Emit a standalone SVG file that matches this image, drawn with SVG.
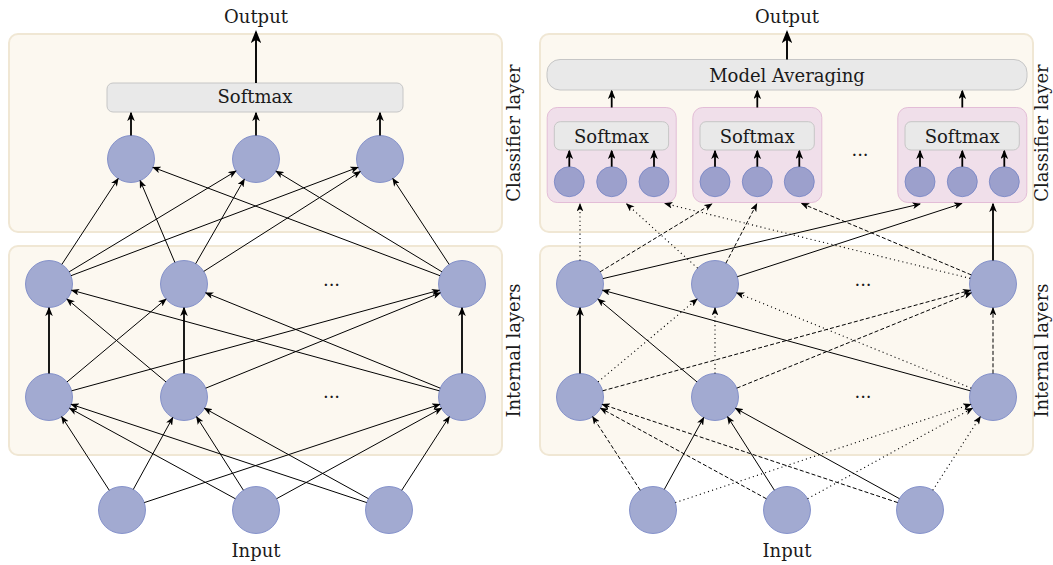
<svg xmlns="http://www.w3.org/2000/svg" width="1053" height="565" viewBox="0 0 1053 565">
<style>
.panel{fill:#fcf8f0;stroke:#f0e7d4;stroke-width:2}
.pink{fill:#f0dfea;stroke:#e3bdd7;stroke-width:1}
.box{fill:#e9e9e9;stroke:#c6c6c6;stroke-width:1}
.n{fill:#a2aad1;stroke:#7383c4;stroke-width:0.8}
.ns{fill:#9ca0cc;stroke:#7383c4;stroke-width:0.8}
text{font-family:"DejaVu Serif","Liberation Serif",serif;font-size:18px;fill:#1a1a1a}
.m{text-anchor:middle}
.c{stroke:#000;stroke-width:1;fill:none;marker-end:url(#a)}
.cd{stroke:#000;stroke-width:1;fill:none;stroke-dasharray:4 2.2;marker-end:url(#a)}
.ct{stroke:#000;stroke-width:1.1;fill:none;stroke-dasharray:1.1 3.2;marker-end:url(#a)}
.ck{stroke:#000;stroke-width:1.8;fill:none;marker-end:url(#ab)}
.co{stroke:#000;stroke-width:1.9;fill:none;marker-end:url(#ao)}
</style>
<defs>
<marker id="a" markerUnits="userSpaceOnUse" viewBox="0 0 10 8" markerWidth="8.5" markerHeight="6.8" refX="8.8" refY="4" orient="auto"><path d="M0,0 L10,4 L0,8 L2.6,4 Z" fill="#000"/></marker>
<marker id="ab" markerUnits="userSpaceOnUse" viewBox="0 0 10 8" markerWidth="9.5" markerHeight="7.6" refX="8.5" refY="4" orient="auto"><path d="M0,0 L10,4 L0,8 L2.6,4 Z" fill="#000"/></marker>
<marker id="ao" markerUnits="userSpaceOnUse" viewBox="0 0 10 8" markerWidth="13" markerHeight="10.4" refX="8.5" refY="4" orient="auto"><path d="M0,0 L10,4 L0,8 L2.6,4 Z" fill="#000"/></marker>
</defs>
<rect width="1053" height="565" fill="#fff"/>

<!-- LEFT PANEL -->
<g id="left">
<g id="L-panels">
<rect class="panel" x="9" y="34" width="493" height="198" rx="9"/>
<rect class="panel" x="9" y="246" width="493" height="209" rx="9"/>
</g>
<text class="m" x="256" y="22.5">Output</text>
<text class="m" x="256" y="557">Input</text>
<text class="m" transform="translate(520,133) rotate(-90)">Classifier layer</text>
<text class="m" transform="translate(520,350.5) rotate(-90)">Internal layers</text>
<text class="m" x="331.5" y="285.5">...</text>
<text class="m" x="331.5" y="398">...</text>
<g id="L-softmax"><rect class="box" x="107" y="83" width="296" height="29" rx="6"/><text class="m" x="255" y="103">Softmax</text></g>
<g id="L-C1"><circle class="n" cx="131" cy="159" r="23.5"/></g>
<g id="L-C2"><circle class="n" cx="256" cy="159" r="23.5"/></g>
<g id="L-C3"><circle class="n" cx="380" cy="159" r="23.5"/></g>
<g id="L-T1"><circle class="n" cx="49" cy="284" r="23.5"/></g>
<g id="L-T2"><circle class="n" cx="184" cy="284" r="23.5"/></g>
<g id="L-T3"><circle class="n" cx="462" cy="284" r="23.5"/></g>
<g id="L-B1"><circle class="n" cx="49" cy="397" r="23.5"/></g>
<g id="L-B2"><circle class="n" cx="184" cy="397" r="23.5"/></g>
<g id="L-B3"><circle class="n" cx="462" cy="397" r="23.5"/></g>
<g id="L-I1"><circle class="n" cx="122" cy="510" r="23.5"/></g>
<g id="L-I2"><circle class="n" cx="256" cy="510" r="23.5"/></g>
<g id="L-I3"><circle class="n" cx="389" cy="510" r="23.5"/></g>
<g id="L-connectors">
<line class="co" x1="256" y1="83" x2="256" y2="32"/>
<line class="ck" x1="131" y1="135.5" x2="131" y2="113"/>
<line class="ck" x1="256" y1="135.5" x2="256" y2="113"/>
<line class="ck" x1="380" y1="135.5" x2="380" y2="113"/>
<line class="c" x1="61.89" y1="264.35" x2="118.11" y2="178.65"/>
<line class="c" x1="69.12" y1="271.85" x2="235.88" y2="171.15"/>
<line class="c" x1="70.98" y1="275.7" x2="358.02" y2="167.3"/>
<line class="c" x1="174.83" y1="262.37" x2="140.17" y2="180.63"/>
<line class="c" x1="195.73" y1="263.64" x2="244.27" y2="179.36"/>
<line class="c" x1="203.81" y1="271.37" x2="360.19" y2="171.63"/>
<line class="c" x1="440.02" y1="275.7" x2="152.98" y2="167.3"/>
<line class="c" x1="441.91" y1="271.81" x2="276.09" y2="171.19"/>
<line class="c" x1="449.11" y1="264.35" x2="392.89" y2="178.65"/>
<line class="ck" x1="49" y1="373.5" x2="49" y2="308"/>
<line class="c" x1="67.02" y1="381.92" x2="165.98" y2="299.08"/>
<line class="c" x1="71.67" y1="390.8" x2="439.33" y2="290.2"/>
<line class="c" x1="165.98" y1="381.92" x2="67.02" y2="299.08"/>
<line class="ck" x1="184" y1="373.5" x2="184" y2="308"/>
<line class="c" x1="205.77" y1="388.15" x2="440.23" y2="292.85"/>
<line class="c" x1="439.33" y1="390.8" x2="71.67" y2="290.2"/>
<line class="c" x1="440.23" y1="388.15" x2="205.77" y2="292.85"/>
<line class="ck" x1="462" y1="373.5" x2="462" y2="308"/>
<line class="c" x1="109.25" y1="490.26" x2="61.75" y2="416.74"/>
<line class="c" x1="133.3" y1="489.4" x2="172.7" y2="417.6"/>
<line class="c" x1="144.3" y1="502.59" x2="439.7" y2="404.41"/>
<line class="c" x1="235.37" y1="498.74" x2="69.63" y2="408.26"/>
<line class="c" x1="243.37" y1="490.18" x2="196.63" y2="416.82"/>
<line class="c" x1="276.6" y1="498.7" x2="441.4" y2="408.3"/>
<line class="c" x1="366.7" y1="502.59" x2="71.3" y2="404.41"/>
<line class="c" x1="368.42" y1="498.66" x2="204.58" y2="408.34"/>
<line class="c" x1="401.75" y1="490.26" x2="449.25" y2="416.74"/>
</g>
</g>

<!-- RIGHT PANEL -->
<g id="right" transform="translate(531,0)">
<g id="R-panels">
<rect class="panel" x="9" y="34" width="493" height="198" rx="9"/>
<rect class="panel" x="9" y="246" width="493" height="209" rx="9"/>
</g>
<text class="m" x="256" y="22.5">Output</text>
<text class="m" x="256" y="557">Input</text>
<text class="m" transform="translate(516.5,133) rotate(-90)">Classifier layer</text>
<text class="m" transform="translate(516.5,350.5) rotate(-90)">Internal layers</text>
<text class="m" x="332" y="285.5">...</text>
<text class="m" x="332" y="398">...</text>
<text class="m" x="329" y="155.5">...</text>
<g id="R-averaging"><rect class="box" x="16" y="59.5" width="480" height="30.5" rx="13"/><text class="m" x="256" y="81.5">Model Averaging</text></g>
<g id="R-head1">
<rect class="pink" x="16.2" y="107.5" width="129" height="95" rx="10"/>
<rect class="box" x="23.3" y="121.7" width="114.3" height="28.3" rx="6"/><text class="m" x="80.5" y="142.5">Softmax</text>
<circle class="ns" cx="38.3" cy="181.7" r="15"/><circle class="ns" cx="80.7" cy="181.7" r="15"/><circle class="ns" cx="123" cy="181.7" r="15"/>
</g>
<g id="R-head2">
<rect class="pink" x="161.8" y="107.5" width="129" height="95" rx="10"/>
<rect class="box" x="169" y="121.7" width="114.3" height="28.3" rx="6"/><text class="m" x="226.2" y="142.5">Softmax</text>
<circle class="ns" cx="184" cy="181.7" r="15"/><circle class="ns" cx="226.3" cy="181.7" r="15"/><circle class="ns" cx="268.3" cy="181.7" r="15"/>
</g>
<g id="R-head3">
<rect class="pink" x="366.8" y="107.5" width="129" height="95" rx="10"/>
<rect class="box" x="374" y="121.7" width="114.3" height="28.3" rx="6"/><text class="m" x="431.2" y="142.5">Softmax</text>
<circle class="ns" cx="389" cy="181.7" r="15"/><circle class="ns" cx="431.3" cy="181.7" r="15"/><circle class="ns" cx="473.3" cy="181.7" r="15"/>
</g>
<g id="R-T1"><circle class="n" cx="49" cy="284" r="23.5"/></g>
<g id="R-T2"><circle class="n" cx="184" cy="284" r="23.5"/></g>
<g id="R-T3"><circle class="n" cx="462" cy="284" r="23.5"/></g>
<g id="R-B1"><circle class="n" cx="49" cy="397" r="23.5"/></g>
<g id="R-B2"><circle class="n" cx="184" cy="397" r="23.5"/></g>
<g id="R-B3"><circle class="n" cx="462" cy="397" r="23.5"/></g>
<g id="R-I1"><circle class="n" cx="122" cy="510" r="23.5"/></g>
<g id="R-I2"><circle class="n" cx="256" cy="510" r="23.5"/></g>
<g id="R-I3"><circle class="n" cx="389" cy="510" r="23.5"/></g>
<g id="R-connectors">
<line class="co" x1="256" y1="59.5" x2="256" y2="32"/>
<line class="ck" x1="80.7" y1="107.5" x2="80.7" y2="91"/>
<line class="ck" x1="226.3" y1="107.5" x2="226.3" y2="91"/>
<line class="ck" x1="431.3" y1="107.5" x2="431.3" y2="91"/>
<line class="ck" x1="38.3" y1="166.7" x2="38.3" y2="151"/>
<line class="ck" x1="80.7" y1="166.7" x2="80.7" y2="151"/>
<line class="ck" x1="123" y1="166.7" x2="123" y2="151"/>
<line class="ck" x1="184" y1="166.7" x2="184" y2="151"/>
<line class="ck" x1="226.3" y1="166.7" x2="226.3" y2="151"/>
<line class="ck" x1="268.3" y1="166.7" x2="268.3" y2="151"/>
<line class="ck" x1="389" y1="166.7" x2="389" y2="151"/>
<line class="ck" x1="431.3" y1="166.7" x2="431.3" y2="151"/>
<line class="ck" x1="473.3" y1="166.7" x2="473.3" y2="151"/>
<line class="ct" x1="49" y1="260.5" x2="49" y2="204"/>
<line class="cd" x1="69.1" y1="271.8" x2="180.7" y2="204"/>
<line class="c" x1="71.9" y1="278.6" x2="389" y2="204"/>
<line class="ct" x1="166.6" y1="268.2" x2="95.7" y2="204"/>
<line class="cd" x1="194.9" y1="263.2" x2="225.7" y2="204"/>
<line class="c" x1="206.3" y1="276.7" x2="430.7" y2="203.5"/>
<line class="ct" x1="439.2" y1="278.4" x2="134" y2="203.5"/>
<line class="cd" x1="440.3" y1="274.9" x2="270.7" y2="203.5"/>
<line class="ck" x1="462" y1="260.5" x2="462" y2="204"/>
<line class="ck" x1="49" y1="373.5" x2="49" y2="308"/>
<line class="ct" x1="67.02" y1="381.92" x2="165.98" y2="299.08"/>
<line class="cd" x1="71.67" y1="390.8" x2="439.33" y2="290.2"/>
<line class="c" x1="165.98" y1="381.92" x2="67.02" y2="299.08"/>
<line class="ct" x1="184" y1="373.5" x2="184" y2="308"/>
<line class="cd" x1="205.77" y1="388.15" x2="440.23" y2="292.85"/>
<line class="c" x1="439.33" y1="390.8" x2="71.67" y2="290.2"/>
<line class="ct" x1="440.23" y1="388.15" x2="205.77" y2="292.85"/>
<line class="cd" x1="462" y1="373.5" x2="462" y2="308"/>
<line class="cd" x1="109.25" y1="490.26" x2="61.75" y2="416.74"/>
<line class="c" x1="133.3" y1="489.4" x2="172.7" y2="417.6"/>
<line class="ct" x1="144.3" y1="502.59" x2="439.7" y2="404.41"/>
<line class="cd" x1="235.37" y1="498.74" x2="69.63" y2="408.26"/>
<line class="c" x1="243.37" y1="490.18" x2="196.63" y2="416.82"/>
<line class="ct" x1="276.6" y1="498.7" x2="441.4" y2="408.3"/>
<line class="cd" x1="366.7" y1="502.59" x2="71.3" y2="404.41"/>
<line class="c" x1="368.42" y1="498.66" x2="204.58" y2="408.34"/>
<line class="ct" x1="401.75" y1="490.26" x2="449.25" y2="416.74"/>
</g>
</g>
</svg>
